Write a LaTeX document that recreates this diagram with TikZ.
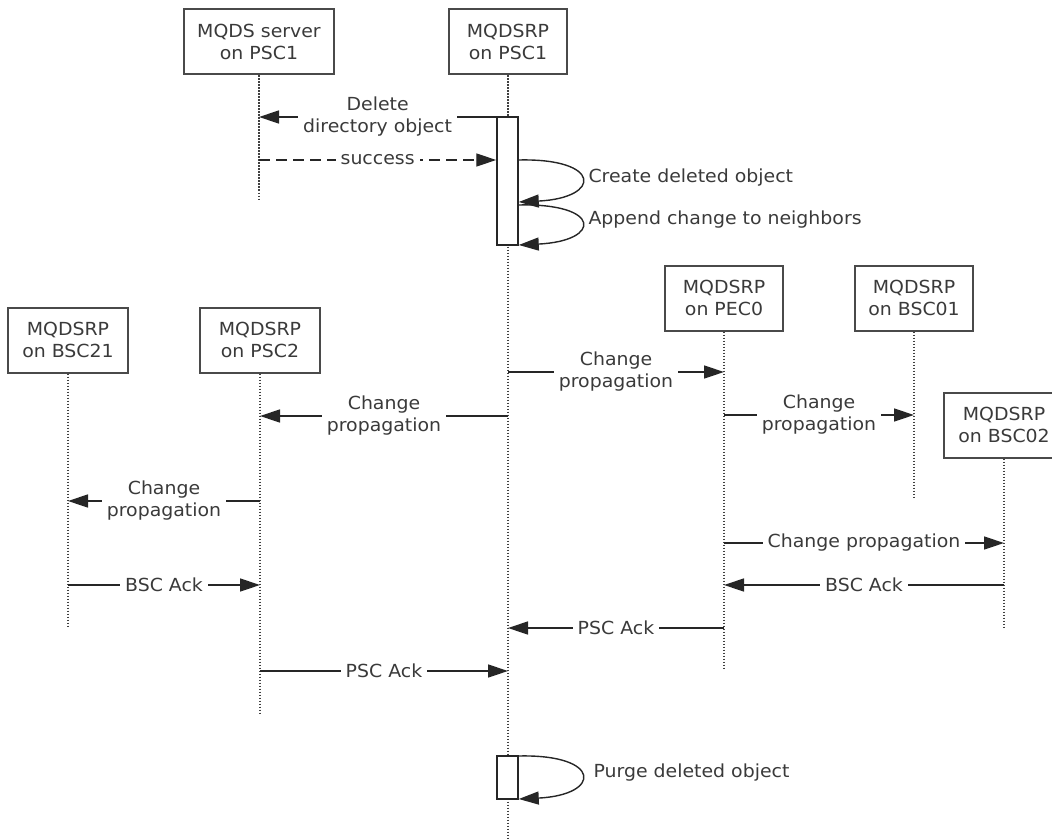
\documentclass[tikz,border=0pt]{standalone}
\usepackage{fontspec}
\setmainfont[FakeStretch=1.05]{DejaVu Sans}
\usetikzlibrary{arrows.meta}
\definecolor{inkgray}{HTML}{3A3A3A}
\definecolor{boxgray}{HTML}{4A4A4A}
\begin{document}
\begin{tikzpicture}[x=1pt,y=-1pt,
  font=\fontsize{18}{22}\selectfont,
  actor/.style={draw=boxgray, line width=2pt, fill=white, text=inkgray,
    minimum width=118pt, minimum height=65pt, inner xsep=12pt, align=center},
  lifeline/.style={draw=black!75, line width=2pt, dash pattern=on 1.6pt off 1.4pt},
  actbox/.style={draw=black!85, line width=1.5pt, fill=white, minimum width=21pt, inner sep=0pt},
  msg/.style={draw=black!85, line width=1.4pt, -{Triangle[length=20pt,width=13pt]}},
  reply/.style={msg, dash pattern=on 11pt off 6pt},
  lbl/.style={fill=white, text=inkgray, align=center, inner xsep=5pt, inner ysep=1pt}]
\useasboundingbox (0,0) rectangle (1052,840);
\begin{scope}
\clip (0,0) rectangle (1052,840);

% participants
\node[actor, minimum width=150pt] (srv) at (259,42) {MQDS server\\on PSC1};
\node[actor] (psc1) at (508,42) {MQDSRP\\on PSC1};
\node[actor, minimum width=120pt] (bsc21) at (68,340) {MQDSRP\\on BSC21};
\node[actor, minimum width=120pt] (psc2) at (260,340) {MQDSRP\\on PSC2};
\node[actor] (pec0) at (724,298) {MQDSRP\\on PEC0};
\node[actor] (bsc01) at (914,298) {MQDSRP\\on BSC01};
\node[actor, minimum width=120pt] (bsc02) at (1004,425) {MQDSRP\\on BSC02};

% lifeline ends
\coordinate (srvEnd) at (259,200);
\coordinate (psc1End) at (508,840);
\coordinate (bsc21End) at (68,628);
\coordinate (psc2End) at (260,713);
\coordinate (pec0End) at (724,668);
\coordinate (bsc01End) at (914,498);
\coordinate (bsc02End) at (1004,628);

\draw[lifeline] (srv.south) -- (srvEnd);
\draw[lifeline] (psc1.south) -- (psc1End);
\draw[lifeline] (bsc21.south) -- (bsc21End);
\draw[lifeline] (psc2.south) -- (psc2End);
\draw[lifeline] (pec0.south) -- (pec0End);
\draw[lifeline] (bsc01.south) -- (bsc01End);
\draw[lifeline] (bsc02.south) -- (bsc02End);

% activations on PSC1
\node[actbox, minimum height=128pt] (act1) at (507.5,181) {};
\node[actbox, minimum height=43pt] (act2) at (507.5,777.5) {};

% deletion request and reply
\draw[msg] (act1.west |- 0,117) -- node[lbl] {Delete\\directory object} (srv |- 0,117);
\draw[reply] (srv |- 0,160) -- node[lbl] {success} (act1.west |- 0,160);

% local steps
\draw[msg] (act1.east |- 0,160) .. controls (602,158) and (602,198) .. (act1.east |- 0,202);
\node[text=inkgray, anchor=west] (s1) at (585,178) {Create deleted object};
\draw[msg] (act1.east |- 0,205) .. controls (602,203) and (602,241) .. (act1.east |- 0,245);
\node[text=inkgray, anchor=west] (s2) at (585,220) {Append change to neighbors};

% replication
\draw[msg] (psc1 |- 0,372) -- node[lbl] {Change\\propagation} (pec0 |- 0,372);
\draw[msg] (psc1 |- 0,416) -- node[lbl] {Change\\propagation} (psc2 |- 0,416);
\draw[msg] (pec0 |- 0,415) -- node[lbl] {Change\\propagation} (bsc01 |- 0,415);
\draw[msg] (psc2 |- 0,501) -- node[lbl] {Change\\propagation} (bsc21 |- 0,501);
\draw[msg] (pec0 |- 0,543) -- node[lbl] {Change propagation} (bsc02 |- 0,543);

% acknowledgements
\draw[msg] (bsc21 |- 0,585) -- node[lbl] {BSC Ack} (psc2 |- 0,585);
\draw[msg] (bsc02 |- 0,585) -- node[lbl] {BSC Ack} (pec0 |- 0,585);
\draw[msg] (pec0 |- 0,628) -- node[lbl] {PSC Ack} (psc1 |- 0,628);
\draw[msg] (psc2 |- 0,671) -- node[lbl] {PSC Ack} (psc1 |- 0,671);

% purge
\draw[msg] (act2.east |- 0,756) .. controls (602,754) and (602,795) .. (act2.east |- 0,799);
\node[text=inkgray, anchor=west] (s3) at (590,773) {Purge deleted object};
\end{scope}
\end{tikzpicture}
\end{document}
